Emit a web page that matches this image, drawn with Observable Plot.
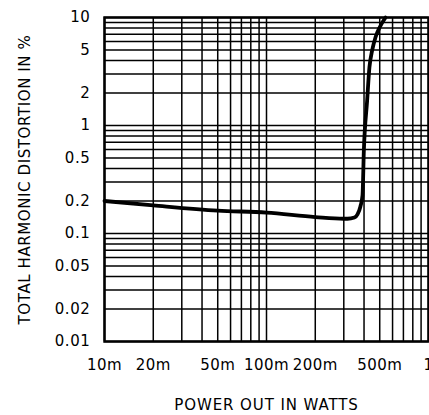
<!DOCTYPE html>
<html>
<head>
<meta charset="utf-8">
<script src="https://cdn.jsdelivr.net/npm/d3@7"></script>
<script src="https://cdn.jsdelivr.net/npm/@observablehq/plot@0.6"></script>
<style>
  html, body { margin: 0; padding: 0; background: #fff; }
  #chart svg { display: block; }
</style>
</head>
<body>
<div id="chart"></div>
<script>
// Power out (W) and total harmonic distortion (%)
const powerOut = [0.01, 0.02, 0.05, 0.1, 0.2, 0.3, 0.316, 0.349, 0.3645, 0.38, 0.3914, 0.399, 0.418, 0.432, 0.449, 0.471, 0.500, 0.543];
const thd      = [0.2, 0.182, 0.163, 0.156, 0.142, 0.137, 0.137, 0.1406, 0.150, 0.178, 0.225, 0.587, 1.70, 3.47, 4.95, 6.57, 8.13, 10];

const xTickValues = [0.01, 0.02, 0.05, 0.1, 0.2, 0.5, 1];
const xTickLabels = ["10m", "20m", "50m", "100m", "200m", "500m", "1"];
const yTickValues = [0.01, 0.02, 0.05, 0.1, 0.2, 0.5, 1, 2, 5, 10];
const yTickLabels = ["0.01", "0.02", "0.05", "0.1", "0.2", "0.5", "1", "2", "5", "10"];

const xGrid = [0.01, 0.02, 0.03, 0.04, 0.05, 0.06, 0.07, 0.08, 0.09,
               0.1, 0.2, 0.3, 0.4, 0.5, 0.6, 0.7, 0.8, 0.9, 1];
const yGrid = [0.01, 0.02, 0.03, 0.04, 0.05, 0.06, 0.07, 0.08, 0.09,
               0.1, 0.2, 0.3, 0.4, 0.5, 0.6, 0.7, 0.8, 0.9,
               1, 2, 3, 4, 5, 6, 7, 8, 9, 10];

const xTitle = "POWER OUT IN WATTS";
const yTitle = "TOTAL HARMONIC DISTORTION IN %";

const data = powerOut.map((p, i) => ({p, v: thd[i]}));

const chart = Plot.plot({
  width: 429,
  height: 415,
  marginLeft: 104,
  marginRight: 1,
  marginTop: 17,
  marginBottom: 74,
  style: {fontFamily: "DejaVu Sans", fontSize: "15px", color: "#000", background: "#fff", overflow: "visible"},
  x: {type: "log", domain: [0.01, 1], axis: null},
  y: {type: "log", domain: [0.01, 10], axis: null},
  marks: [
    Plot.ruleX(xGrid, {stroke: "#000", strokeWidth: 1.5}),
    Plot.ruleY(yGrid, {stroke: "#000", strokeWidth: 1.5}),
    Plot.frame({stroke: "#000", strokeWidth: 2.5}),
    Plot.text(xTickValues, {x: d => d, frameAnchor: "bottom", dy: 24, lineAnchor: "middle", textAnchor: "middle",
      text: (d, i) => xTickLabels[i], fontSize: 15, fill: "#000"}),
    Plot.text(yTickValues, {y: d => d, frameAnchor: "left", dx: -14, lineAnchor: "middle", textAnchor: "end",
      text: (d, i) => yTickLabels[i], fontSize: 15, fill: "#000"}),
    Plot.line(data, {x: "p", y: "v", stroke: "#000", strokeWidth: 3.8, curve: "monotone-x"}),
    Plot.text([xTitle], {frameAnchor: "bottom", dy: 64, lineAnchor: "middle", textAnchor: "middle", fontSize: 15, fill: "#000"}),
    Plot.text([yTitle], {frameAnchor: "left", dx: -79, rotate: -90, lineAnchor: "middle", textAnchor: "middle", fontSize: 15, fill: "#000"})
  ]
});
// widen letter spacing to match the drafting font of the reference
chart.querySelectorAll("text").forEach(t => {
  const s = t.textContent;
  if (s === xTitle) t.setAttribute("letter-spacing", "0.9");
  else if (s === yTitle) t.setAttribute("letter-spacing", "0.6");
  else if (/m$/.test(s) || s === "1") t.setAttribute("letter-spacing", "0.4");
  else t.setAttribute("letter-spacing", "0.6");
});
document.getElementById("chart").append(chart);
</script>
</body>
</html>
